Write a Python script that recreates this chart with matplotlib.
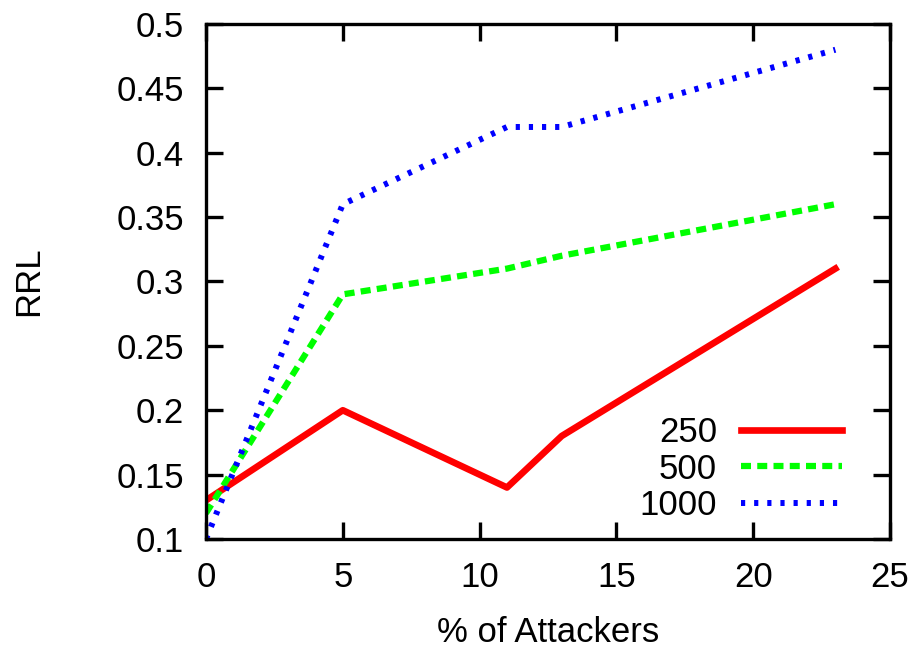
import matplotlib
matplotlib.use('Agg')
import matplotlib.pyplot as plt

# data
attackers = [0, 5, 11, 13, 23]
rrl_250 = [0.13, 0.20, 0.14, 0.18, 0.31]
rrl_500 = [0.12, 0.29, 0.31, 0.32, 0.36]
rrl_1000 = [0.10, 0.36, 0.42, 0.42, 0.48]

plt.rcParams['font.family'] = ['Liberation Sans', 'DejaVu Sans']

fig = plt.figure(figsize=(9.22, 6.55), dpi=100)
ax = fig.add_axes([0.2234, 0.1771, 0.742, 0.7863])

ax.plot(attackers, rrl_250, color='#ff0000', lw=4.8, label='250')
ax.plot(attackers, rrl_500, color='#00ff00', lw=4.5, dashes=(1.6, 1.0), label='500')
ax.plot(attackers, rrl_1000, color='#0000ff', lw=4.3, dashes=(0.7, 1.5), label='1000')

ax.set_xlim(0, 25)
ax.set_ylim(0.1, 0.5)
ax.set_xticks([0, 5, 10, 15, 20, 25])
ax.set_yticks([0.1, 0.15, 0.2, 0.25, 0.3, 0.35, 0.4, 0.45, 0.5])
ax.set_yticklabels(['0.1', '0.15', '0.2', '0.25', '0.3', '0.35', '0.4', '0.45', '0.5'])

for s in ax.spines.values():
    s.set_linewidth(2.4)
ax.tick_params(direction='in', length=12, width=2.4, labelsize=25,
               top=True, right=True)
ax.tick_params(axis='y', pad=16)
ax.tick_params(axis='x', pad=16)

ax.set_xlabel('% of Attackers', fontsize=25)
ax.set_ylabel('RRL', fontsize=25)
ax.xaxis.set_label_coords(0.5, -0.15)
ax.yaxis.set_label_coords(-0.235, 0.5)

ax.legend(loc='lower right', frameon=False, fontsize=25, markerfirst=False,
          handlelength=2.9, handletextpad=0.7, labelspacing=0.1,
          borderaxespad=0.0, bbox_to_anchor=(0.95, 0.006))

fig.savefig('out.png', dpi=100)
